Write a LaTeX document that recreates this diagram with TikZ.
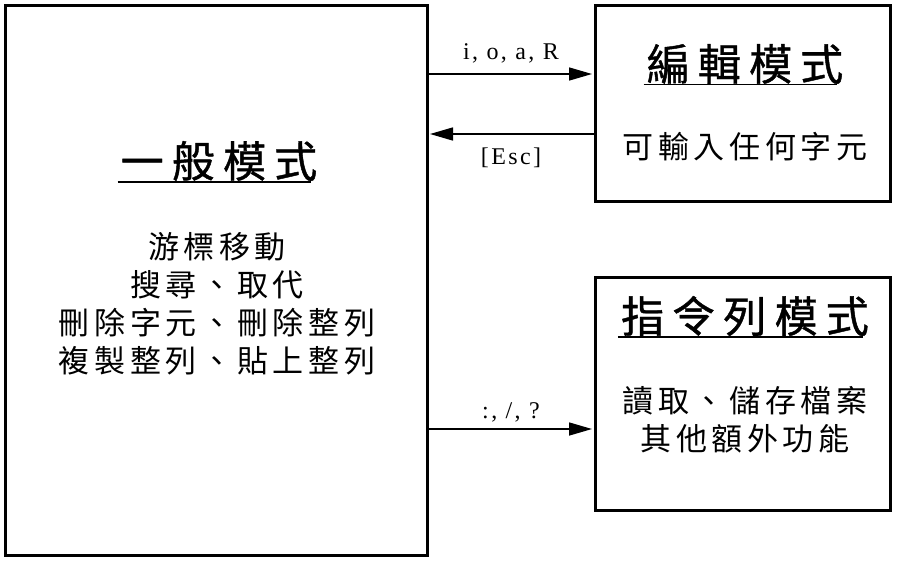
\documentclass[tikz,border=0pt]{standalone}
\usepackage{fontspec}
\setmainfont{Liberation Serif}
\newfontfamily\cjkttl{Noto Sans CJK TC}[LetterSpace=19,FakeBold=1]
\newfontfamily\cjkbody{Noto Sans CJK TC}[LetterSpace=15]
\newfontfamily\lbl{Liberation Serif}[LetterSpace=10]
\usetikzlibrary{arrows.meta}
\begin{document}
\begin{tikzpicture}[x=1pt,y=-1pt,
  box/.style={draw, line width=3pt, inner sep=0pt},
  ttl/.style={font=\cjkttl\fontsize{43}{50}\selectfont, inner sep=0pt},
  bodytxt/.style={font=\cjkbody\fontsize{31}{38}\selectfont, align=center, inner sep=0pt},
  ul/.style={line width=1.8pt},
  conn/.style={line width=1.5pt, -{Triangle[length=23pt,width=13pt]}, shorten >=1.5pt},
  lab/.style={font=\lbl\fontsize{24}{28}\selectfont, inner sep=0pt, anchor=base}]
\useasboundingbox[fill=white] (0,0) rectangle (902,566);
% boxes
\node[box, minimum width=422pt, minimum height=550pt] (gen) at (216,280) {};
\node[box, minimum width=295pt, minimum height=195.5pt] (edit) at (742.5,103.3) {};
\node[box, minimum width=295pt, minimum height=233.3pt] (cmd) at (742.5,394.3) {};
% general mode text
\node[ttl] (genT) at (219,161) {一般模式};
\draw[ul] ([xshift=-3pt,yshift=-0.5pt]genT.south west) -- ([xshift=-6pt,yshift=-0.5pt]genT.south east);
\node[bodytxt] (genB) at (217,304) {游標移動\\搜尋、取代\\刪除字元、刪除整列\\複製整列、貼上整列};
% edit mode text
\node[ttl] (editT) at (745,64) {編輯模式};
\draw[ul] ([xshift=-3pt,yshift=-0.5pt]editT.south west) -- ([xshift=-6pt,yshift=-0.5pt]editT.south east);
\node[bodytxt] (editB) at (745,147) {可輸入任何字元};
% command mode text
\node[ttl] (cmdT) at (745,316) {指令列模式};
\draw[ul] ([xshift=-3pt,yshift=-0.5pt]cmdT.south west) -- ([xshift=-6pt,yshift=-0.5pt]cmdT.south east);
\node[bodytxt] (cmdB) at (745,419.5) {讀取、儲存檔案\\其他額外功能};
% connectors
\draw[conn] (gen.east |- 0,74) -- node[lab, yshift=15pt] (l1) {i, o, a, R} (edit.west |- 0,74);
\draw[conn] (edit.west |- 0,134) -- node[lab, yshift=-30pt] (l2) {[Esc]} (gen.east |- 0,134);
\draw[conn] (gen.east |- 0,429) -- node[lab, yshift=11pt] (l3) {:, /, ?} (cmd.west |- 0,429);
\end{tikzpicture}
\end{document}
